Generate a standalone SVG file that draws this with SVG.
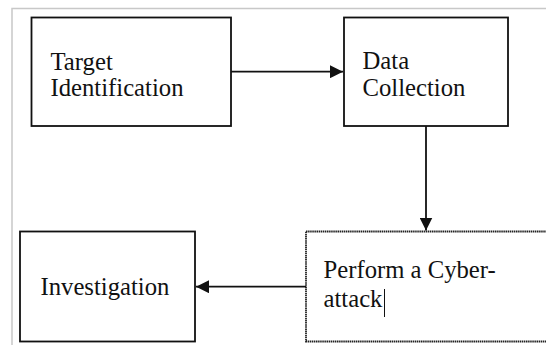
<svg xmlns="http://www.w3.org/2000/svg" width="546" height="345" viewBox="0 0 546 345">
<style>
  .box { fill: #ffffff; stroke: #111111; stroke-width: 1.8; }
  .dotted { fill: #ffffff; stroke: #222222; stroke-width: 1.8; stroke-dasharray: 1.5 0.6; }
  .lbl { font-family: 'Liberation Serif', 'Times New Roman', 'DejaVu Serif', serif; font-size: 24.7px; fill: #111111; }
  .conn { stroke: #111111; stroke-width: 1.8; fill: none; }
</style>
<defs>
  <marker id="arrow" viewBox="0 0 10 10" refX="10" refY="5" markerWidth="13" markerHeight="13" markerUnits="userSpaceOnUse" orient="auto">
    <path d="M0,0 L10,5 L0,10 Z" fill="#111111"/>
  </marker>
</defs>
<rect x="0" y="0" width="546" height="345" fill="#ffffff"/>
<path d="M12,345 L12,8.5 L546,8.5" fill="none" stroke="#c8c8c8" stroke-width="1.5"/>
<g id="target-identification">
  <rect class="box" x="31.5" y="17.5" width="199.5" height="108.5"/>
  <text class="lbl" x="50.5" y="69.5">Target</text>
  <text class="lbl" x="50.5" y="95.5">Identification</text>
</g>
<g id="data-collection">
  <rect class="box" x="344" y="17.5" width="164" height="108.5"/>
  <text class="lbl" x="362.5" y="69">Data</text>
  <text class="lbl" x="362.5" y="95.5">Collection</text>
</g>
<g id="perform-cyber-attack">
  <rect class="dotted" x="306" y="231.5" width="250" height="110"/>
  <text class="lbl" x="323.5" y="278">Perform a Cyber-</text>
  <text class="lbl" x="323.5" y="306.5">attack</text>
  <line x1="384.5" y1="289" x2="384.5" y2="317" stroke="#111111" stroke-width="1"/>
</g>
<g id="investigation">
  <rect class="box" x="20" y="231.5" width="175" height="110"/>
  <text class="lbl" x="40.5" y="295">Investigation</text>
</g>
<g id="connectors">
  <line class="conn" x1="231" y1="71.7" x2="343" y2="71.7" marker-end="url(#arrow)"/>
  <line class="conn" x1="426" y1="126" x2="426" y2="230.5" marker-end="url(#arrow)"/>
  <line class="conn" x1="306" y1="286.7" x2="196" y2="286.7" marker-end="url(#arrow)"/>
</g>
</svg>
